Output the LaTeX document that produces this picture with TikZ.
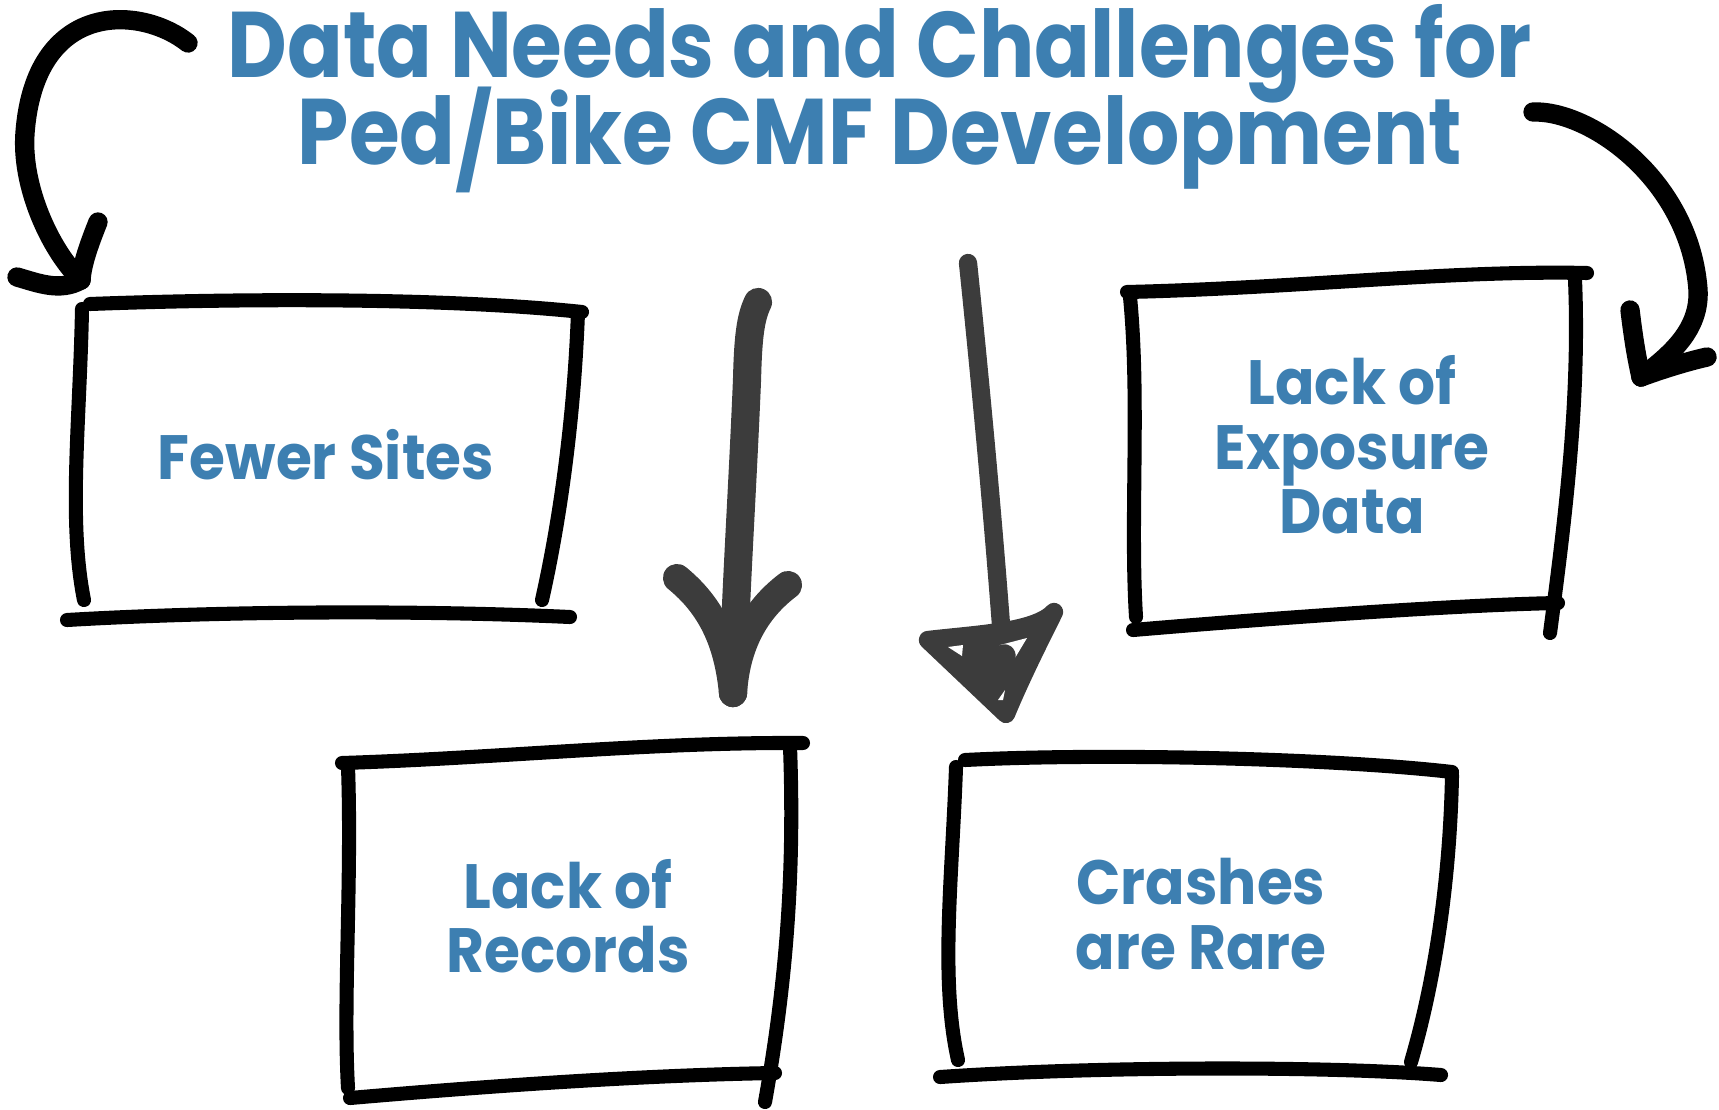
\documentclass[tikz,border=0pt]{standalone}
\usepackage{fontspec}
\setmainfont{Poppins}
\newfontfamily\headfont{Poppins}[FakeStretch=0.882]
\newfontfamily\boxfont{Poppins}[FakeStretch=0.93]
% heading lines keep a fixed baseline distance
\newcommand\headstyle{\headfont\bfseries\fontsize{26.5}{24.75}\selectfont
  \lineskiplimit=-100pt\relax}

\definecolor{titleblue}{HTML}{3D7FB1}
\definecolor{pengray}{HTML}{3C3C3C}

\tikzset{
  pen/.style={line width=4pt, line cap=round, line join=round},
  curvepen/.style={line width=5.5pt, line cap=round, line join=round},
  thickpen/.style={line width=8pt, line cap=round, line join=round, draw=pengray},
  thinpen/.style={line width=5.2pt, line cap=round, line join=round, draw=pengray},
  boxtext/.style={text=titleblue, inner sep=0pt, align=center,
    font=\boxfont\bfseries\fontsize{17.8}{18.3}\selectfont},
}

\begin{document}
\begin{tikzpicture}[x=0.01cm, y=-0.01cm]
  \useasboundingbox (0,0) rectangle (1719,1109);

  % heading
  \node[text=titleblue, inner sep=0pt, align=center, anchor=north, font=\headstyle]
    (title) at (880,4)
    {Data Needs and Challenges for\\Ped\raisebox{-3pt}{/}Bike CMF Development};

  % the four boxes
  \node[boxtext] (fewer) at (326,455) {Fewer Sites};
  \node[boxtext] (exposure) at (1352,445) {Lack of\\Exposure\\Data};
  \node[boxtext] (records) at (568,916) {Lack of\\Records};
  \node[boxtext] (crashes) at (1201,914) {Crashes\\are Rare};

  % box outlines, drawn by hand
  \draw[pen] (90,304) .. controls (250,298) and (450,298) .. (582,312);
  \draw[pen] (82,309) .. controls (80,420) and (68,520) .. (84,600);
  \draw[pen] (578,312) .. controls (574,420) and (560,520) .. (542,600);
  \draw[pen] (67,620) .. controls (220,611) and (420,610) .. (570,617);

  \draw[pen] (1127,292) .. controls (1300,288) and (1450,270) .. (1587,273);
  \draw[pen] (1130,297) .. controls (1140,400) and (1130,520) .. (1136,617);
  \draw[pen] (1575,280) .. controls (1580,400) and (1565,520) .. (1550,633);
  \draw[pen] (1133,630) .. controls (1250,620) and (1450,605) .. (1558,603);

  \draw[pen] (342,763) .. controls (500,758) and (650,742) .. (803,743);
  \draw[pen] (348,767) .. controls (352,880) and (343,1000) .. (348,1088);
  \draw[pen] (790,747) .. controls (795,880) and (785,990) .. (765,1102);
  \draw[pen] (350,1098) .. controls (500,1085) and (650,1075) .. (775,1073);

  \draw[pen] (965,760) .. controls (1100,753) and (1330,758) .. (1452,772);
  \draw[pen] (956,767) .. controls (952,880) and (940,980) .. (958,1060);
  \draw[pen] (1452,775) .. controls (1450,880) and (1435,980) .. (1411,1062);
  \draw[pen] (940,1077) .. controls (1100,1066) and (1330,1066) .. (1441,1075);

  % curved arrows from the heading
  \coordinate (lstart) at (188,43);
  \coordinate (ltip) at (81,280);
  \draw[curvepen] (lstart) .. controls (140,5) and (35,0) .. (25,133)
    .. controls (21,186) and (50,250) .. (ltip);
  \draw[curvepen] (98,222) .. controls (88,247) and (82,265) .. (ltip);
  \draw[curvepen] (17,277) .. controls (38,283) and (60,292) .. (ltip);

  \coordinate (rstart) at (1533,112);
  \coordinate (rtip) at (1641,377);
  \draw[curvepen] (rstart) .. controls (1590,110) and (1690,180) .. (1698,290)
    .. controls (1700,330) and (1670,355) .. (rtip);
  \draw[curvepen] (1630,310) .. controls (1633,335) and (1636,355) .. (rtip);
  \draw[curvepen] (1707,357) .. controls (1685,362) and (1660,370) .. (rtip);

  % the two straight arrows in the middle
  \coordinate (mtop) at (758,302);
  \coordinate (mtip) at (733,693);
  \draw[thickpen] (mtop) .. controls (750,318) and (748,340) .. (747,380)
    .. controls (742,500) and (735,600) .. (mtip);
  \draw[thickpen] (677,578) .. controls (710,605) and (728,640) .. (mtip);
  \draw[thickpen] (788,585) .. controls (755,610) and (736,645) .. (mtip);

  \coordinate (ntop) at (968,263);
  \coordinate (ntip) at (1006,714);
  \draw[thinpen] (ntop) .. controls (975,330) and (990,480) .. (1001,625);
  \filldraw[thinpen, fill=pengray] (928,640) .. controls (980,634) and (1035,632) .. (1054,612)
    .. controls (1040,640) and (1020,680) .. (ntip) -- cycle;
  % gaps left by the scribble
  \fill[white] (948,647) -- (963,645) -- (962,656) -- cycle;
  \fill[white] (990,656) -- (1000,645) -- (1027,638) -- (1012,663) -- cycle;
  \fill[white] (998,700) -- (1005,690) -- (1003,700) -- cycle;
  \draw[thinpen, line width=4pt] (995,662) .. controls (998,648) and (1012,648) .. (1008,660);
\end{tikzpicture}
\end{document}
